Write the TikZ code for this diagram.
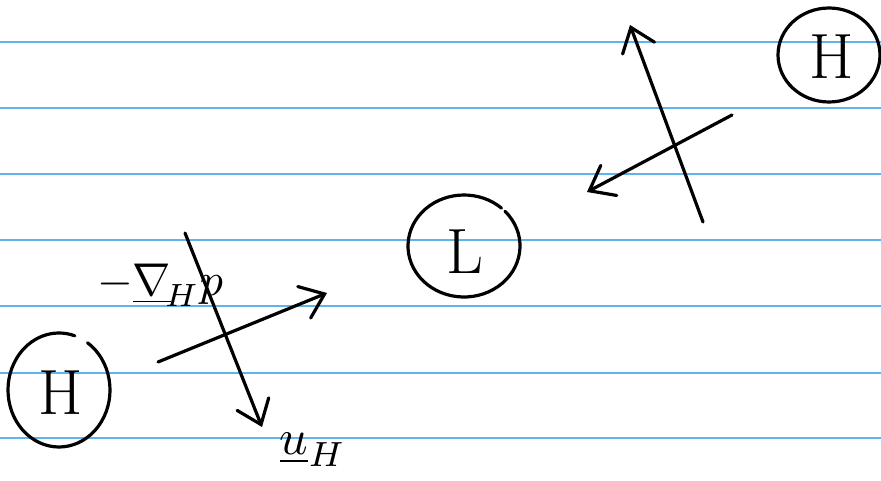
\documentclass[tikz,border=0pt]{standalone}
\usetikzlibrary{arrows.meta}
\definecolor{rulingblue}{RGB}{95,180,235}
\begin{document}
\begin{tikzpicture}[x=1pt,y=-1pt,
  ink/.style={line width=3.2pt, line cap=round, line join=round, black},
  rulingline/.style={line width=2.8pt, rulingblue},
  head/.style={-{Straight Barb[length=22pt,width=34pt,line cap=round]}},
  bigletter/.style={inner sep=0pt, font=\fontsize{64}{68}\selectfont},
  lbl/.style={inner sep=0pt}]
\useasboundingbox[fill=white] (0,0) rectangle (881,481);
\foreach \y in {42,108,174,240,306,373,438} \draw[rulingline] (0,\y) -- (881,\y);

% circled letters
\node[bigletter] (Hleft) at (61,393) {H};
\coordinate (cHleft) at (59,390);
\draw[ink] (cHleft) ++(-56:51 and 57) arc[start angle=-56, end angle=288, x radius=51, y radius=57];

\node[bigletter] (Hright) at (832,57) {H};
\coordinate (cHright) at (829,55);
\draw[ink] (cHright) ellipse[x radius=51, y radius=47];

\node[bigletter] (Lmid) at (465,252) {L};
\coordinate (cLmid) at (464,246);
\draw[ink] (cLmid) ++(-43:56 and 51) arc[start angle=-43, end angle=312, x radius=56, y radius=51];

% arrows lower left
\coordinate (gradS) at (185,233);
\coordinate (gradE) at (262,427);
\draw[ink,head] (gradS) -- (gradE);
\coordinate (flowS) at (158,362);
\coordinate (flowE) at (327,293);
\draw[ink,head] (flowS) -- (flowE);

% arrows upper right
\coordinate (upS) at (703,222);
\coordinate (upE) at (630,25);
\draw[ink,head] (upS) -- (upE);
\coordinate (leftS) at (732,115);
\coordinate (leftE) at (587,192);
\draw[ink,head] (leftS) -- (leftE);

% labels
\node[lbl, anchor=base] (gradlabel) at (160,295) {\scalebox{4.6}{$-\underline{\nabla}_{\!H} p$}};
\node[lbl, anchor=base] (uHlabel) at (313,454) {\scalebox{5}{$\underline{u}_H$}};
\end{tikzpicture}
\end{document}
